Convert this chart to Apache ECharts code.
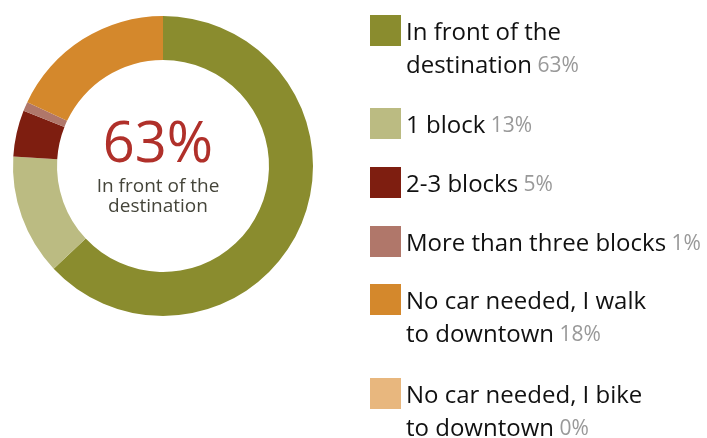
<!DOCTYPE html>
<html>
<head>
<meta charset="utf-8">
<script src="https://cdn.jsdelivr.net/npm/echarts@6/dist/echarts.min.js"></script>
<style>
  html, body { margin: 0; padding: 0; background: #fff; }
  #container { width: 707px; height: 438px; }
</style>
</head>
<body>
<div id="container"></div>
<script>
var dom = document.getElementById('container');
var myChart = echarts.init(dom, null, { renderer: 'canvas' });

// data
var names = [
    'In front of the\ndestination',
    '1 block',
    '2-3 blocks',
    'More than three blocks',
    'No car needed, I walk\nto downtown',
    'No car needed, I bike\nto downtown'
];
var values = [63, 13, 5, 1, 18, 0];
var colors = ['#8a8c2e', '#bbbb82', '#7e1e10', '#b0776a', '#d4882c', '#e8b77e'];

// top of each legend square (px)
var legendIconTops = [15, 108, 167, 226, 284, 378];
var lineH = 33;
var textPadTop = 6;
var font = 'Open Sans';

var pctOf = {};
names.forEach(function (n, i) { pctOf[n] = values[i] + '%'; });

var legends = names.map(function (n, i) {
    var lines = n.split('\n');
    var boxH = (lines.length > 1 ? 3 : 1) * lineH + textPadTop;
    return {
        data: [n],
        orient: 'vertical',
        left: 370,
        top: legendIconTops[i] - (boxH / 2 - 15.5),
        padding: 0,
        itemWidth: 31,
        itemHeight: 31,
        icon: 'rect',
        selectedMode: false,
        textStyle: {
            fontFamily: font,
            fontSize: 24,
            lineHeight: lineH,
            color: '#111',
            padding: [textPadTop, 0, 0, 0],
            rich: {
                n: { fontFamily: font, fontSize: 24, lineHeight: lineH, color: '#111' },
                p: { fontFamily: font, fontSize: 21, lineHeight: lineH, color: '#999' }
            }
        },
        formatter: function (name) {
            var ls = name.split('\n');
            var out = ls.map(function (l, k) {
                var s = '{n|' + l + '}';
                if (k === ls.length - 1) s += '{p| ' + pctOf[name] + '}';
                return s;
            }).join('\n');
            return ls.length > 1 ? '\n' + out : out;
        }
    };
});

option = {
    color: colors,
    animation: false,
    title: {
        text: values[0] + '%',
        subtext: names[0],
        left: 158,
        top: 115,
        padding: 0,
        textAlign: 'center',
        itemGap: 0,
        textStyle: {
            fontFamily: font,
            fontSize: 56,
            fontWeight: 'normal',
            color: '#b0302a',
            lineHeight: 62
        },
        subtextStyle: {
            fontFamily: font,
            fontSize: 19,
            color: '#45453a',
            lineHeight: 20
        }
    },
    legend: legends,
    series: [{
        type: 'pie',
        center: [163, 166],
        radius: [106, 150],
        startAngle: 90,
        clockwise: true,
        label: { show: false },
        labelLine: { show: false },
        emphasis: { disabled: true },
        data: names.map(function (n, i) {
            return { name: n, value: values[i] };
        })
    }]
};
myChart.setOption(option);

window.addEventListener('resize', function () {
    myChart.resize();
});
</script>
</body>
</html>
